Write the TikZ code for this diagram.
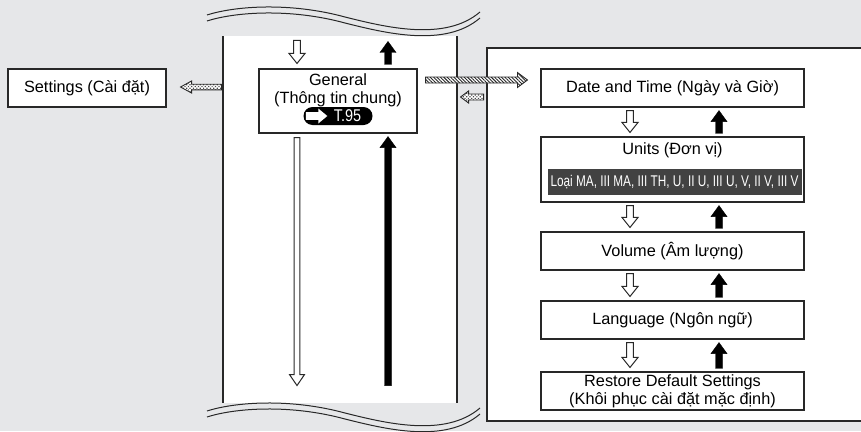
\documentclass[tikz,border=0pt]{standalone}
\usepackage{fontspec}
\setmainfont{Liberation Sans}
\usetikzlibrary{calc,patterns,patterns.meta}
\definecolor{bg}{RGB}{230,231,233}
\definecolor{ln}{RGB}{40,40,40}
\definecolor{barc}{RGB}{66,66,66}

% block arrow: [style]{shaft half}{head half}{head length}{start}{tip}
\newcommand\blockarrow[6][]{%
  \coordinate (bah) at ($(#6)!#4!(#5)$);
  \path[#1] ($(#5)!#2!90:(#6)$) -- ($(bah)!#2!90:(#6)$) -- ($(bah)!#3!90:(#6)$)
    -- (#6) -- ($(bah)!#3!-90:(#6)$) -- ($(bah)!#2!-90:(#6)$) -- ($(#5)!#2!-90:(#6)$) -- cycle;}

\begin{document}
\begin{tikzpicture}[x=1pt,y=-1pt,
  box/.style={draw=ln,line width=1.1pt,fill=white,inner sep=0pt},
  txt/.style={font=\fontsize{16.3}{18}\selectfont,align=center},
  hollow/.style={draw=ln,fill=white,line width=1pt,line join=miter},
  solidarr/.style={draw=black,fill=black,line width=0.4pt},
  hatched/.style={draw=ln,line width=0.9pt,preaction={fill=white},
    pattern={Lines[angle=-45,distance=2.4pt,line width=0.9pt]},pattern color=ln},
  checked/.style={draw=ln,line width=0.9pt,preaction={fill=white},
    pattern={Dots[distance=2.4pt,radius=0.85pt,angle=45]},pattern color=black!70},
  wave/.style={draw=ln,line width=1pt}]
\clip (0,0) rectangle (861,431);
\fill[bg] (0,0) rectangle (861,431);

% white column
\fill[white] (223,36) rectangle (457,403);
\draw[ln,line width=1.1pt] (223,36) -- (223,403) (457,36) -- (457,403);

% wavy break lines
\foreach \dy in {0,6}{
  \begin{scope}[shift={(0,\dy)}]
    \draw[wave] (207,15) .. controls (235,6) and (290,2) .. (345,17)
      .. controls (385,27) and (445,42) .. (480,12);
    \draw[wave] (207,411) .. controls (235,402) and (290,398) .. (345,413)
      .. controls (385,423) and (445,438) .. (480,408);
  \end{scope}
}

% right panel
\draw[ln,line width=1.1pt,fill=white] (487,48) rectangle (880,421);

% left column nodes
\node[box,txt,minimum width=158pt,minimum height=38pt] (settings) at (87,88) {Settings (Cài đặt)};
\node[box,minimum width=158pt,minimum height=64pt] (general) at (338,101) {};
\node[txt] (gentext) at (338,90) {General\\(Thông tin chung)};
\node[fill=black,rounded corners=9pt,minimum width=69pt,minimum height=18pt,inner sep=0pt] (ref) at (338,116) {};
\node[text=white,font=\fontsize{17}{17}\selectfont,inner sep=0pt] (refnum) at ($(ref.center)+(9.5,0)$) {\scalebox{0.85}[1]{T.95}};
\coordinate (pa1) at ($(ref.west)+(2.5,0)$);
\coordinate (pa2) at ($(ref.west)+(24,0)$);
\blockarrow[fill=white]{3.8pt}{7.5pt}{9pt}{pa1}{pa2}

% right panel nodes
\node[box,txt,minimum width=263pt,minimum height=38pt] (date) at (672.5,88) {Date and Time (Ngày và Giờ)};
\node[box,minimum width=263pt,minimum height=65pt] (units) at (672.5,169.5) {};
\node[txt] (unitstitle) at (672.5,150) {Units (Đơn vị)};
\node[fill=barc,text=white,minimum width=254pt,minimum height=26pt,inner sep=0pt] (unitsbar) at (674.5,182)
  {\fontsize{15.5}{15.5}\selectfont\scalebox{0.76}[1]{Loại MA, III MA, III TH, U, II U, III U, V, II V, III V}};
\node[box,txt,minimum width=263pt,minimum height=38pt] (volume) at (672.5,251) {Volume (Âm lượng)};
\node[box,txt,minimum width=263pt,minimum height=38pt] (language) at (672.5,320) {Language (Ngôn ngữ)};
\node[box,txt,minimum width=263pt,minimum height=38pt] (restore) at (672.5,391) {Restore Default Settings\\(Khôi phục cài đặt mặc định)};

% arrows between right panel items
\foreach \a/\b in {date/units,units/volume,volume/language,language/restore}{
  \coordinate (d1) at ($(\a.south)+(-42.5,3)$);
  \coordinate (d2) at ($(\b.north)+(-42.5,-4)$);
  \blockarrow[hollow]{3.3pt}{8pt}{10pt}{d1}{d2}
  \coordinate (u1) at ($(\b.north)+(46.5,-3)$);
  \coordinate (u2) at ($(\a.south)+(46.5,3)$);
  \blockarrow[solidarr]{3.5pt}{8pt}{11pt}{u1}{u2}
}

% column arrows
\coordinate (td1) at ($(general.north)+(-41,-28)$);
\coordinate (td2) at ($(general.north)+(-41,-5)$);
\blockarrow[hollow]{3.3pt}{8pt}{10pt}{td1}{td2}
\coordinate (tu1) at ($(general.north)+(50,-4)$);
\coordinate (tu2) at ($(general.north)+(50,-27)$);
\blockarrow[solidarr]{3.5pt}{8pt}{11pt}{tu1}{tu2}
\coordinate (ld1) at ($(general.south)+(-41,4)$);
\coordinate (ld2) at ($(general.south)+(-41,252)$);
\blockarrow[hollow]{2.8pt}{7.5pt}{11pt}{ld1}{ld2}
\coordinate (lu1) at ($(general.south)+(50,252)$);
\coordinate (lu2) at ($(general.south)+(50,3)$);
\blockarrow[solidarr]{3.5pt}{8pt}{11pt}{lu1}{lu2}

% horizontal arrows
\coordinate (h1) at ($(general.east)+(8,-21)$);
\coordinate (h2) at ($(date.west)+(-13,-8)$);
\blockarrow[hatched]{3pt}{7.5pt}{10pt}{h1}{h2}
\coordinate (c1) at ($(general.east)+(66,-4)$);
\coordinate (c2) at ($(general.east)+(43,-4)$);
\blockarrow[checked]{3pt}{6pt}{8pt}{c1}{c2}
\coordinate (s1) at ($(general.west)+(-37,-14)$);
\coordinate (s2) at ($(settings.east)+(14,-1)$);
\blockarrow[checked]{2.8pt}{6pt}{11pt}{s1}{s2}
\end{tikzpicture}
\end{document}
